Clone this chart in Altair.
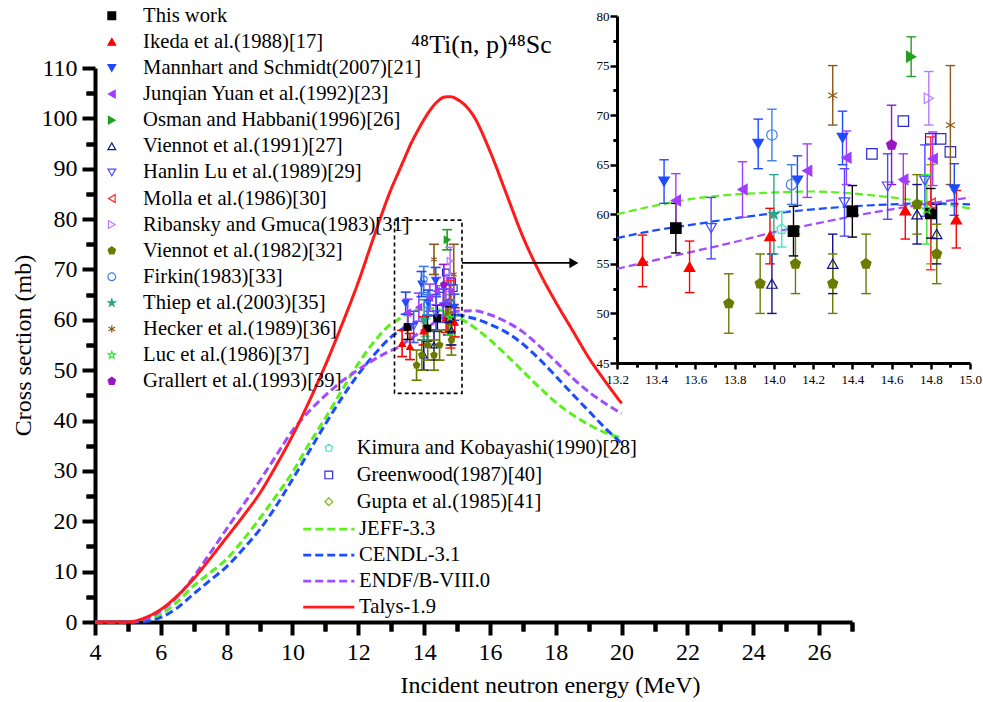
import altair as alt
import pandas as pd

FONT = "Liberation Serif"

# ---------------- evaluated / calculated excitation functions (MeV, mb) ----------------
energy = [4, 5, 5.5, 6, 6.5, 7, 7.5, 8, 8.5, 9, 9.5, 10, 10.5, 11, 11.5, 12, 12.5, 13,
          13.2, 13.4, 13.6, 13.8, 14.0, 14.2, 14.4, 14.6, 14.8, 15.0,
          15.5, 16, 16.5, 17, 17.5, 18, 18.5, 19, 19.5, 20]
jeff = [0, 0, 0.3, 1.5, 4.0, 7.2, 9.8, 12.5, 16.3, 20.5, 25.0, 29.7, 35.3, 40.5, 46.0, 51.3, 55.8, 59.2,
        60.0, 60.9, 61.6, 62.0, 62.2, 62.3, 62.1, 61.7, 61.2, 60.6,
        58.6, 56.0, 53.0, 49.8, 46.6, 43.6, 41.2, 39.2, 37.6, 36.5]
cendl = [0, 0, 0.1, 0.9, 2.8, 5.6, 8.3, 11.0, 14.5, 18.3, 23.0, 28.3, 33.8, 39.3, 44.5, 49.2, 53.2, 56.6,
         57.6, 58.4, 59.0, 59.6, 60.1, 60.5, 60.8, 61.0, 61.1, 61.0,
         60.3, 59.1, 57.5, 55.2, 52.2, 48.8, 45.3, 41.9, 38.5, 35.5]
endf = [0, 0, 0.5, 2.2, 5.0, 9.0, 13.7, 18.5, 23.2, 28.0, 33.0, 38.0, 41.8, 45.0, 47.8, 50.1, 52.2, 53.9,
        54.5, 55.4, 56.3, 57.2, 58.2, 59.0, 59.8, 60.5, 61.1, 61.7,
        61.8, 61.0, 59.6, 57.6, 54.8, 51.7, 48.5, 45.7, 43.4, 41.4]
talys = [0, 0, 0.8, 2.5, 5.2, 8.6, 12.6, 16.8, 21.0, 25.5, 31.0, 37.0, 43.7, 51.0, 59.0, 67.5, 77.0, 86.0,
         89.0, 92.0, 95.0, 97.5, 99.8, 101.8, 103.3, 104.2, 104.3, 103.8,
         100.5, 93.5, 85.0, 76.5, 69.5, 63.5, 58.0, 52.5, 47.8, 43.4]

# ---------------- experimental data: energy (MeV), cross section (mb), uncertainty (mb) ----------------
this_E = [13.50, 14.10, 14.40, 14.80]
this_S = [58.6, 58.3, 60.3, 60.1]
this_D = [2.5, 2.5, 2.6, 2.5]
ikeda_E = [13.33, 13.57, 13.98, 14.67, 14.93]
ikeda_S = [55.3, 54.7, 57.8, 60.4, 59.5]
ikeda_D = [2.6, 2.6, 2.8, 2.9, 2.9]
mann_E = [13.44, 13.92, 14.12, 14.35, 14.92]
mann_S = [63.3, 67.1, 63.4, 67.7, 62.5]
mann_D = [2.2, 2.5, 2.5, 2.7, 2.6]
yuan_E = [13.50, 13.84, 14.17, 14.37, 14.66, 14.81]
yuan_S = [61.4, 62.5, 64.4, 65.7, 63.5, 65.6]
yuan_D = [2.7, 2.8, 2.7, 2.7, 2.6, 2.7]
osman_E = [14.70]
osman_S = [75.9]
osman_D = [2.0]
vie91_E = [13.99, 14.30, 14.73, 14.83]
vie91_S = [53.0, 55.0, 60.0, 58.0]
vie91_D = [3.0, 3.0, 3.0, 3.0]
hanlin_E = [13.68, 14.36, 14.58, 14.77]
hanlin_S = [58.6, 61.2, 62.8, 63.4]
hanlin_D = [3.1, 3.4, 3.3, 3.6]
molla_E = [14.80]
molla_S = [61.1]
molla_D = [6.7]
riban_E = [14.79]
riban_S = [71.7]
riban_D = [2.7]
vie82_E = [13.77, 13.93, 14.11, 14.30, 14.47, 14.73, 14.83]
vie82_S = [51.0, 53.0, 55.0, 53.0, 55.0, 61.0, 56.0]
vie82_D = [3.0, 3.0, 3.0, 3.0, 3.0, 3.0, 3.0]
firkin_E = [13.99, 14.09]
firkin_S = [68.0, 63.0]
firkin_D = [2.6, 2.0]
thiep_E = [14.00]
thiep_S = [60.0]
thiep_D = [4.0]
hecker_E = [14.30, 14.90]
hecker_S = [72.0, 69.0]
hecker_D = [3.0, 6.0]
luc_E = [14.78]
luc_S = [60.5]
luc_D = [3.5]
grall_E = [14.60]
grall_S = [67.0]
grall_D = [4.0]
kimura_E = [14.04]
kimura_S = [58.5]
kimura_D = [1.8]
green_E = [14.50, 14.66, 14.80, 14.85, 14.90]
green_S = [66.1, 69.4, 67.6, 67.6, 66.3]
green_D = [0, 0, 0, 0, 0]
gupta_E = [14.80]
gupta_S = [60.0]
gupta_D = [5.0]

# ---------------- series names and styles ----------------
G1_NAMES = ["This work", "Ikeda et al.(1988)[17]", "Mannhart and Schmidt(2007)[21]",
            "Junqian Yuan et al.(1992)[23]", "Osman and Habbani(1996)[26]", "Viennot et al.(1991)[27]",
            "Hanlin Lu et al.(1989)[29]", "Molla et al.(1986)[30]", "Ribansky and Gmuca(1983)[31]",
            "Viennot et al.(1982)[32]", "Firkin(1983)[33]", "Thiep et al.(2003)[35]",
            "Hecker et al.(1989)[36]", "Luc et al.(1986)[37]", "Grallert et al.(1993)[39]"]
G1_COLORS = ["#000000", "#ff0000", "#1f4bff", "#a03cff", "#20a020", "#10108a", "#4a4aff", "#ff2a2a",
             "#b77cff", "#6b7a00", "#3f7fe6", "#2aa58a", "#8b5a1a", "#33e633", "#9a14c4"]
G1_FILLS = ["#000000", "#ff0000", "#1f4bff", "#a03cff", "#20a020", "transparent", "transparent",
            "transparent", "transparent", "#6b7a00", "transparent", "#2aa58a", "transparent",
            "transparent", "#9a14c4"]
PENT = "M0,-1L0.951,-0.309L0.588,0.809L-0.588,0.809L-0.951,-0.309Z"
STAR = ("M0,-1L0.235,-0.324L0.951,-0.309L0.38,0.124L0.588,0.809L0,0.4L-0.588,0.809"
        "L-0.38,0.124L-0.951,-0.309L-0.235,-0.324Z")
AST = "M0,-1L0,1M-0.87,-0.5L0.87,0.5M-0.87,0.5L0.87,-0.5"
LINE = "M-6.6,0L6.6,0"
G1_SHAPES = ["square", "triangle-up", "triangle-down", "triangle-left", "triangle-right",
             "triangle-up", "triangle-down", "triangle-left", "triangle-right", PENT,
             "circle", STAR, AST, STAR, PENT]

G2_NAMES = ["Kimura and Kobayashi(1990)[28]", "Greenwood(1987)[40]", "Gupta et al.(1985)[41]"]
G2_COLORS = ["#3ee6c4", "#2a2ad4", "#7ab800"]
G2_SHAPES = [PENT, "square", "diamond"]

MODEL_NAMES = [" JEFF-3.3", "CENDL-3.1", "ENDF/B-VIII.0", "Talys-1.9"]
MODEL_COLORS = ["#5cf01a", "#1a4dff", "#a04cff", "#ff1a1a"]
MODEL_DASH = [[8, 4], [8, 4], [8, 4], [1, 0]]

# axis ticks
tick_main_x = list(range(4, 27, 2))
minor_main_x = list(range(5, 28, 2))
tick_main_y = list(range(0, 111, 10))
minor_main_y = list(range(5, 110, 10))
tick_in_x = [13.2, 13.4, 13.6, 13.8, 14.0, 14.2, 14.4, 14.6, 14.8, 15.0]
minor_in_x = [13.3, 13.5, 13.7, 13.9, 14.1, 14.3, 14.5, 14.7, 14.9]
tick_in_y = [45, 50, 55, 60, 65, 70, 75, 80]
minor_in_y = [47.5, 52.5, 57.5, 62.5, 67.5, 72.5, 77.5]

# zoom box and arrow (data units of the main plot)
box_E = [13.1, 15.15]
box_S = [45.4, 79.8]
arrow_E = [15.15, 18.55]
arrow_S = [71.3]
TITLE = "\u2074\u2078Ti(n, p)\u2074\u2078Sc"

# ---------------- tables ----------------
exp_sets = [
    ("This work", this_E, this_S, this_D), ("Ikeda et al.(1988)[17]", ikeda_E, ikeda_S, ikeda_D),
    ("Mannhart and Schmidt(2007)[21]", mann_E, mann_S, mann_D),
    ("Junqian Yuan et al.(1992)[23]", yuan_E, yuan_S, yuan_D),
    ("Osman and Habbani(1996)[26]", osman_E, osman_S, osman_D),
    ("Viennot et al.(1991)[27]", vie91_E, vie91_S, vie91_D),
    ("Hanlin Lu et al.(1989)[29]", hanlin_E, hanlin_S, hanlin_D),
    ("Molla et al.(1986)[30]", molla_E, molla_S, molla_D),
    ("Ribansky and Gmuca(1983)[31]", riban_E, riban_S, riban_D),
    ("Viennot et al.(1982)[32]", vie82_E, vie82_S, vie82_D),
    ("Firkin(1983)[33]", firkin_E, firkin_S, firkin_D),
    ("Thiep et al.(2003)[35]", thiep_E, thiep_S, thiep_D),
    ("Hecker et al.(1989)[36]", hecker_E, hecker_S, hecker_D),
    ("Luc et al.(1986)[37]", luc_E, luc_S, luc_D),
    ("Grallert et al.(1993)[39]", grall_E, grall_S, grall_D),
    ("Kimura and Kobayashi(1990)[28]", kimura_E, kimura_S, kimura_D),
    ("Greenwood(1987)[40]", green_E, green_S, green_D),
    ("Gupta et al.(1985)[41]", gupta_E, gupta_S, gupta_D),
]
recs = []
for name, E, S, D in exp_sets:
    for e, s, d in zip(E, S, D):
        recs.append(dict(series=name, E=e, sig=s, lo=s - d, hi=s + d, err=d))
exp = pd.DataFrame(recs)
exp1 = exp[exp.series.isin(G1_NAMES)]
exp2 = exp[exp.series.isin(G2_NAMES)]
bars1 = exp1[exp1.err > 0]
bars2 = exp2[exp2.err > 0]

curves = pd.DataFrame(
    [dict(series=n, E=e, sig=v) for n, vals in zip(MODEL_NAMES, [jeff, cendl, endf, talys])
     for e, v in zip(energy, vals)])
box_df = pd.DataFrame(dict(x0=[box_E[0]], x1=[box_E[1]], y0=[box_S[0]], y1=[box_S[1]]))
arrow_df = pd.DataFrame(dict(x0=[arrow_E[0]], x1=[arrow_E[1]], y=arrow_S))
title_df = pd.DataFrame(dict(t=[TITLE]))

# ---------------- geometry ----------------
W, H = 757, 554
X_MAIN = dict(domain=[4, 27], nice=False, zero=False)
Y_MAIN = dict(domain=[0, 110], nice=False, zero=False)
X_IN = dict(domain=[13.2, 15.0], range=[522, 875], nice=False, zero=False)
Y_IN = dict(domain=[45, 80], range=[295, -52], nice=False, zero=False)

AX = dict(domainColor="black", tickColor="black", labelColor="black", labelFont=FONT,
          titleFont=FONT, titleColor="black", titleFontWeight="normal", grid=False, labelFlush=False)

ax_main_x = alt.Axis(orient="bottom", values=tick_main_x, format="d", domainWidth=4, tickWidth=4,
                     tickSize=13, labelFontSize=24, labelPadding=5,
                     title="Incident neutron energy (MeV)", titleFontSize=24, titleX=455, titleY=63,
                     titleBaseline="middle", titleAlign="center", **AX)
ax_main_y = alt.Axis(orient="left", values=tick_main_y, format="d", domainWidth=4, tickWidth=4,
                     tickSize=13, labelFontSize=24, labelPadding=5,
                     title="Cross section (mb)", titleFontSize=24, titleX=-72, titleY=H / 2,
                     titleAngle=270, titleBaseline="middle", titleAlign="center", **AX)
ax_main_x_min = alt.Axis(orient="bottom", values=minor_main_x, labels=False, domain=False,
                         tickWidth=4, tickSize=9, tickColor="black", title=None, grid=False)
ax_main_y_min = alt.Axis(orient="left", values=minor_main_y, labels=False, domain=False,
                         tickWidth=4, tickSize=9, tickColor="black", title=None, grid=False)
ax_in_x = alt.Axis(orient="bottom", offset=-259, values=tick_in_x, format=".1f", domainWidth=3,
                   tickWidth=2.5, tickSize=6, labelFontSize=13, labelPadding=4, title=None, **AX)
ax_in_y = alt.Axis(orient="left", offset=-522, values=tick_in_y, format="d", domainWidth=3,
                   tickWidth=2.5, tickSize=7, labelFontSize=13, labelPadding=1, title=None, **AX)
ax_in_x_min = alt.Axis(orient="bottom", offset=-259, values=minor_in_x, labels=False, domain=False,
                       tickWidth=2.5, tickSize=4, tickColor="black", title=None, grid=False)
ax_in_y_min = alt.Axis(orient="left", offset=-522, values=minor_in_y, labels=False, domain=False,
                       tickWidth=2.5, tickSize=4, tickColor="black", title=None, grid=False)

LEG_COMMON = dict(orient="none", title=None, padding=0, direction="vertical", columns=1,
                  labelFont=FONT, labelColor="black", labelLimit=600,
                  symbolSize=60, symbolFillColor="transparent", symbolOpacity=1)
LEG1 = alt.Legend(legendX=6.5, legendY=-62.5, labelOffset=21, labelFontSize=20.6, rowPadding=5.1,
                  symbolStrokeWidth=1.2, **LEG_COMMON)
LEG2 = alt.Legend(legendX=202.5, legendY=369.8, labelOffset=17.6, labelFontSize=20.6, rowPadding=5.8,
                  symbolOffset=21, symbolStrokeWidth=1.2, **LEG_COMMON)
LEG3 = alt.Legend(legendX=202.5, legendY=450.8, labelOffset=20, labelFontSize=20.6, rowPadding=5.0,
                  symbolOffset=21, symbolStrokeWidth=2.8, symbolType=LINE, **LEG_COMMON)


def X(field, xs, ax):
    return alt.X(field, type="quantitative", scale=alt.Scale(**xs), axis=ax)


def Y(field, ys, ax):
    return alt.Y(field, type="quantitative", scale=alt.Scale(**ys), axis=ax)


def group1(xs, ys, axx, axy, legend, psize, capsize, lw):
    # error-bar colour scale listed in reverse order so it never merges with the marker legend
    col = alt.Color("series:N", scale=alt.Scale(domain=G1_NAMES[::-1], range=G1_COLORS[::-1]),
                    legend=None)
    bars = alt.Chart(bars1).mark_rule(strokeWidth=lw, opacity=1).encode(
        x=X("E", xs, axx), y=Y("lo", ys, axy), y2="hi:Q", color=col)
    caps = alt.Chart(bars1).transform_fold(["lo", "hi"], as_=["end", "yv"]).mark_point(
        shape="stroke", size=capsize, strokeWidth=lw, opacity=1, filled=False).encode(
        x=X("E", xs, axx), y=Y("yv", ys, axy), color=col)
    pts = alt.Chart(exp1).mark_point(filled=False, size=psize, strokeWidth=1.2, opacity=1).encode(
        x=X("E", xs, axx), y=Y("sig", ys, axy),
        stroke=alt.Stroke("series:N", scale=alt.Scale(domain=G1_NAMES, range=G1_COLORS), legend=legend),
        fill=alt.Fill("series:N", scale=alt.Scale(domain=G1_NAMES, range=G1_FILLS), legend=legend),
        shape=alt.Shape("series:N", scale=alt.Scale(domain=G1_NAMES, range=G1_SHAPES), legend=legend))
    return alt.layer(bars, caps, pts)


def group2(xs, ys, axx, axy, legend, psize, capsize, lw):
    col = alt.Color("series:N", scale=alt.Scale(domain=G2_NAMES, range=G2_COLORS), legend=legend)
    shp = alt.Shape("series:N", scale=alt.Scale(domain=G2_NAMES, range=G2_SHAPES), legend=legend)
    bcol = alt.Stroke("series:N", scale=alt.Scale(domain=G2_NAMES[::-1], range=G2_COLORS[::-1]),
                      legend=None)
    bars = alt.Chart(bars2).mark_rule(strokeWidth=lw, opacity=1).encode(
        x=X("E", xs, axx), y=Y("lo", ys, axy), y2="hi:Q", stroke=bcol)
    caps = alt.Chart(bars2).transform_fold(["lo", "hi"], as_=["end", "yv"]).mark_point(
        shape="stroke", size=capsize, strokeWidth=lw, opacity=1, filled=False).encode(
        x=X("E", xs, axx), y=Y("yv", ys, axy), stroke=bcol)
    pts = alt.Chart(exp2).mark_point(filled=False, size=psize, strokeWidth=1.2, opacity=1).encode(
        x=X("E", xs, axx), y=Y("sig", ys, axy), color=col, shape=shp)
    return alt.layer(bars, caps, pts)


def model_lines(xs, ys, axx, axy, legend, linew, inset):
    cur = alt.Chart(curves)
    if inset:
        cur = cur.transform_filter(
            (alt.datum.E >= 13.2) & (alt.datum.E <= 15.0) & (alt.datum.sig <= 80))
    return cur.mark_line(strokeWidth=linew, interpolate="monotone").encode(
        x=X("E", xs, axx), y=Y("sig", ys, axy),
        color=alt.Color("series:N", scale=alt.Scale(domain=MODEL_NAMES, range=MODEL_COLORS), legend=legend),
        strokeDash=alt.StrokeDash("series:N", scale=alt.Scale(domain=MODEL_NAMES, range=MODEL_DASH),
                                  legend=legend))


# main plot: model curves + zoom box + arrow + reaction label
box = alt.Chart(box_df).mark_rect(filled=False, stroke="black", strokeDash=[4, 3], strokeWidth=1.6).encode(
    x=X("x0", X_MAIN, ax_main_x), x2="x1:Q", y=Y("y0", Y_MAIN, ax_main_y), y2="y1:Q")
arrow = alt.Chart(arrow_df).mark_rule(stroke="black", strokeWidth=1.6).encode(
    x=X("x0", X_MAIN, ax_main_x), x2="x1:Q", y=Y("y", Y_MAIN, ax_main_y))
head = alt.Chart(arrow_df).mark_point(shape="triangle-right", filled=True, color="black",
                                      size=110, opacity=1).encode(
    x=X("x1", X_MAIN, ax_main_x), y=Y("y", Y_MAIN, ax_main_y))
label = alt.Chart(title_df).mark_text(font=FONT, fontSize=26, align="left", baseline="alphabetic",
                                      color="black").encode(
    x=alt.value(316), y=alt.value(-15), text="t:N")
C_LINES = alt.layer(model_lines(X_MAIN, Y_MAIN, ax_main_x, ax_main_y, LEG3, 3, False),
                    box, arrow, head, label)
C_G2 = group2(X_MAIN, Y_MAIN, ax_main_x_min, ax_main_y_min, LEG2, 45, 100, 1.6)
C_G1 = group1(X_MAIN, Y_MAIN, ax_main_x_min, ax_main_y_min, LEG1, 45, 100, 1.6)
C_IN_LINES = model_lines(X_IN, Y_IN, ax_in_x, ax_in_y, None, 2.2, True)
C_IN_G2 = group2(X_IN, Y_IN, ax_in_x_min, ax_in_y_min, None, 110, 90, 1.4)
C_IN_G1 = group1(X_IN, Y_IN, ax_in_x_min, ax_in_y_min, None, 110, 90, 1.4)

chart = alt.layer(C_LINES, C_G2, C_G1, C_IN_LINES, C_IN_G2, C_IN_G1).resolve_scale(
    x="independent", y="independent", color="independent", stroke="independent",
    fill="independent", shape="independent", strokeDash="independent"
).properties(
    width=W, height=H,
    autosize=alt.AutoSizeParams(type="none"),
    padding={"left": 95, "top": 68, "right": 983 - 95 - W, "bottom": 702 - 68 - H},
    background="white",
).configure_view(stroke=None)

chart.save("out.html", embed_options={"renderer": "svg", "actions": False})
